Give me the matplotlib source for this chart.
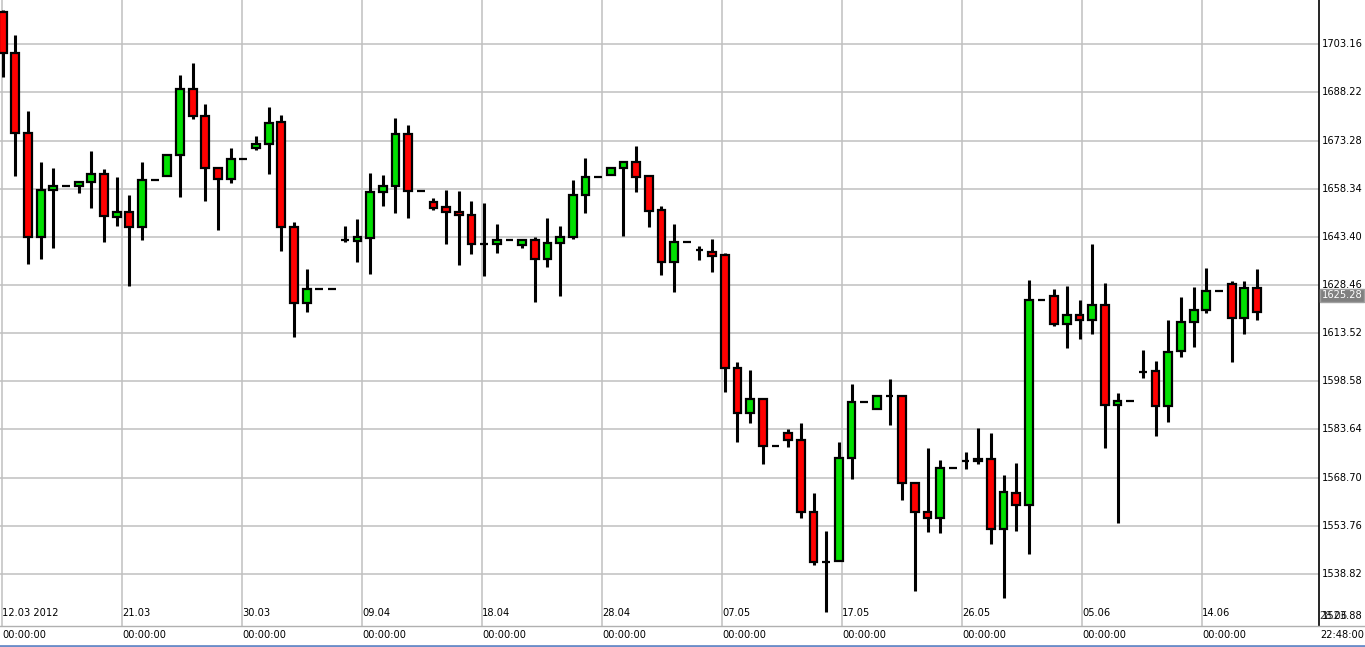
import numpy as np
import matplotlib
matplotlib.use("Agg")
import matplotlib.pyplot as plt

# daily OHLC (100 bars, 12.03 - 14.06 2012)
opens = [1713.3, 1700.4, 1675.7, 1643.4, 1657.9, 1659.3, 1659.3, 1660.4, 1663.0, 1649.7,
         1651.2, 1646.5, 1661.0, 1662.3, 1668.8, 1689.4, 1681.0, 1664.9, 1661.4, 1667.7,
         1671.0, 1672.2, 1679.2, 1646.5, 1622.9, 1627.3, 1627.3, 1642.4, 1642.1, 1643.0,
         1657.2, 1659.2, 1675.4, 1657.6, 1654.1, 1652.8, 1651.2, 1650.3, 1641.3, 1641.2,
         1642.5, 1640.9, 1642.5, 1636.5, 1641.4, 1643.4, 1656.4, 1662.1, 1662.6, 1664.8,
         1666.7, 1662.4, 1651.8, 1635.6, 1641.9, 1639.2, 1638.8, 1637.8, 1602.8, 1588.8,
         1593.2, 1578.5, 1582.6, 1580.5, 1558.0, 1542.5, 1542.8, 1574.8, 1592.2, 1589.9,
         1594.1, 1594.1, 1567.1, 1558.1, 1556.2, 1571.8, 1573.8, 1573.8, 1574.6, 1552.8,
         1564.0, 1560.1, 1623.8, 1625.2, 1616.3, 1619.3, 1617.6, 1622.4, 1591.3, 1592.6,
         1601.6, 1601.9, 1590.9, 1608.1, 1617.0, 1620.7, 1626.7, 1628.7, 1618.1, 1627.6]
highs = [1713.8, 1706.0, 1682.5, 1666.6, 1664.8, 1659.3, 1660.5, 1670.1, 1664.4, 1662.0,
         1656.4, 1666.5, 1661.0, 1668.9, 1693.5, 1697.4, 1684.5, 1664.9, 1670.9, 1667.7,
         1674.6, 1683.7, 1681.2, 1647.9, 1633.4, 1627.3, 1627.3, 1646.8, 1649.0, 1663.2,
         1662.6, 1680.3, 1678.1, 1657.6, 1655.4, 1657.9, 1657.6, 1654.4, 1653.8, 1647.3,
         1642.5, 1642.5, 1643.3, 1649.2, 1646.7, 1661.0, 1667.8, 1662.1, 1664.8, 1666.7,
         1671.5, 1662.4, 1653.1, 1647.4, 1641.9, 1640.7, 1642.7, 1638.5, 1604.5, 1602.1,
         1593.2, 1578.5, 1583.9, 1585.6, 1563.8, 1552.1, 1579.8, 1597.8, 1592.2, 1594.1,
         1599.3, 1594.1, 1567.1, 1577.9, 1574.2, 1571.8, 1576.7, 1584.0, 1582.7, 1569.4,
         1573.3, 1629.9, 1623.8, 1627.1, 1628.2, 1623.8, 1641.2, 1629.1, 1594.9, 1592.6,
         1608.3, 1604.8, 1617.6, 1624.8, 1627.8, 1633.7, 1626.7, 1629.8, 1629.8, 1633.3]
lows = [1693.0, 1662.3, 1635.0, 1636.5, 1639.9, 1659.3, 1656.9, 1652.5, 1641.9, 1646.9,
        1628.3, 1642.3, 1661.0, 1662.3, 1655.7, 1679.9, 1654.6, 1645.4, 1660.0, 1667.7,
        1670.4, 1663.0, 1639.1, 1612.4, 1620.2, 1627.3, 1627.3, 1641.7, 1635.7, 1632.0,
        1653.1, 1650.7, 1649.4, 1657.6, 1651.7, 1641.3, 1634.8, 1638.2, 1631.4, 1638.5,
        1642.5, 1640.1, 1623.3, 1634.2, 1625.1, 1642.6, 1650.7, 1662.1, 1662.6, 1643.8,
        1657.2, 1646.4, 1631.5, 1626.4, 1641.9, 1636.1, 1632.4, 1595.4, 1579.7, 1585.8,
        1572.8, 1578.5, 1578.3, 1556.1, 1541.5, 1526.9, 1542.8, 1568.2, 1592.2, 1589.9,
        1584.9, 1561.8, 1533.4, 1551.7, 1551.4, 1571.8, 1571.5, 1572.8, 1548.0, 1531.3,
        1552.0, 1544.9, 1623.8, 1615.8, 1608.8, 1611.8, 1613.4, 1578.0, 1554.5, 1592.6,
        1599.5, 1581.7, 1586.1, 1606.2, 1609.3, 1619.7, 1626.7, 1604.7, 1613.4, 1617.6]
closes = [1700.4, 1675.7, 1643.4, 1658.0, 1659.3, 1659.3, 1660.5, 1663.0, 1649.9, 1651.2,
          1646.5, 1661.0, 1661.0, 1668.9, 1689.4, 1680.9, 1664.8, 1661.4, 1667.7, 1667.7,
          1672.3, 1678.8, 1646.5, 1622.9, 1627.3, 1627.3, 1627.3, 1642.4, 1643.4, 1657.4,
          1659.3, 1675.4, 1657.6, 1657.6, 1652.4, 1651.1, 1650.1, 1641.2, 1641.3, 1642.5,
          1642.5, 1642.5, 1636.5, 1641.6, 1643.5, 1656.4, 1662.1, 1662.1, 1664.8, 1666.7,
          1662.0, 1651.4, 1635.6, 1641.9, 1641.9, 1639.2, 1637.5, 1602.8, 1588.8, 1593.2,
          1578.5, 1578.5, 1580.4, 1558.0, 1542.5, 1542.5, 1574.8, 1592.2, 1592.2, 1594.1,
          1594.1, 1567.0, 1558.0, 1556.2, 1571.8, 1571.8, 1573.8, 1574.6, 1552.8, 1564.3,
          1560.1, 1623.8, 1623.8, 1616.3, 1619.3, 1617.6, 1622.4, 1591.3, 1592.6, 1592.6,
          1601.6, 1590.9, 1607.8, 1617.1, 1620.8, 1626.7, 1626.7, 1618.1, 1627.6, 1620.2]

date_labels = ["12.03 2012", "21.03", "30.03", "09.04", "18.04", "28.04",
               "07.05", "17.05", "26.05", "05.06", "14.06"]
price_ticks = [1538.82, 1553.76, 1568.70, 1583.64, 1598.58, 1613.52,
               1628.46, 1643.40, 1658.34, 1673.28, 1688.22, 1703.16]
last_price = 1625.28

W, H = 1365, 647
fig = plt.figure(figsize=(W / 100, H / 100), dpi=100)
ax = fig.add_axes([0, 21.3 / H, 1319 / W, 1 - 21.3 / H])

idx = np.arange(len(opens))
o = np.array(opens); c = np.array(closes)
colors = np.where(c >= o, "#00E000", "#FF0000")

ax.vlines(idx, lows, highs, color="black", linewidth=2.2, zorder=2)
ax.bar(idx, np.abs(c - o), bottom=np.minimum(o, c), width=0.62,
       color=colors, edgecolor="black", linewidth=1.6, zorder=3)

ax.set_xlim(-0.213, 103.9)
ax.set_ylim(1522.76, 1716.91)

# one grid line every 120 px (9.47 bars)
grid_x = (np.arange(len(date_labels)) * 120 - 0.7) / 12.67
ax.set_xticks(grid_x)
ax.set_yticks(price_ticks)
ax.grid(True, color="#C0C0C0", linewidth=1.1, zorder=0)
ax.tick_params(length=0, labelleft=False, labelbottom=False)
for s in ["left", "top", "bottom"]:
    ax.spines[s].set_visible(False)
ax.spines["right"].set_linewidth(1.2)

tf = dict(fontsize=7.1, family="DejaVu Sans")
for gx, lab in zip(grid_x, date_labels):
    ax.text(gx, 0.012, lab, transform=ax.get_xaxis_transform(), ha="left", va="bottom", **tf)
    fig.text((gx * 12.67 + 2.7) / W, 1 - 635 / H, "00:00:00", ha="left", va="center", **tf)

for p in price_ticks:
    ax.text(1.002, p, f"{p:.2f}", transform=ax.get_yaxis_transform(), ha="left", va="center", **tf)
ax.text(1.002, 1523.88 + 1.9, "1523.88", transform=ax.get_yaxis_transform(), ha="left", va="center", **tf)
ax.text(1.0, 1523.88 + 1.9, "28.06", transform=ax.get_yaxis_transform(), ha="left", va="center", alpha=0.8, **tf)
ax.text(1.002, last_price, f"{last_price:.2f}", transform=ax.get_yaxis_transform(),
        ha="left", va="center", color="white", fontsize=7.1,
        bbox=dict(boxstyle="square,pad=0.15", fc="#808080", ec="#A0A0A0"))
fig.text(1320 / W, 1 - 635 / H, "22:48:00", ha="left", va="center", **tf)

fig.add_artist(plt.Line2D([0, 1], [1 - 626 / H, 1 - 626 / H], color="#B0B0B0", linewidth=1))
fig.add_artist(plt.Line2D([0, 1], [1 - 645.5 / H, 1 - 645.5 / H], color="#6A8CC8", linewidth=2))

fig.savefig("out.png", dpi=100)
